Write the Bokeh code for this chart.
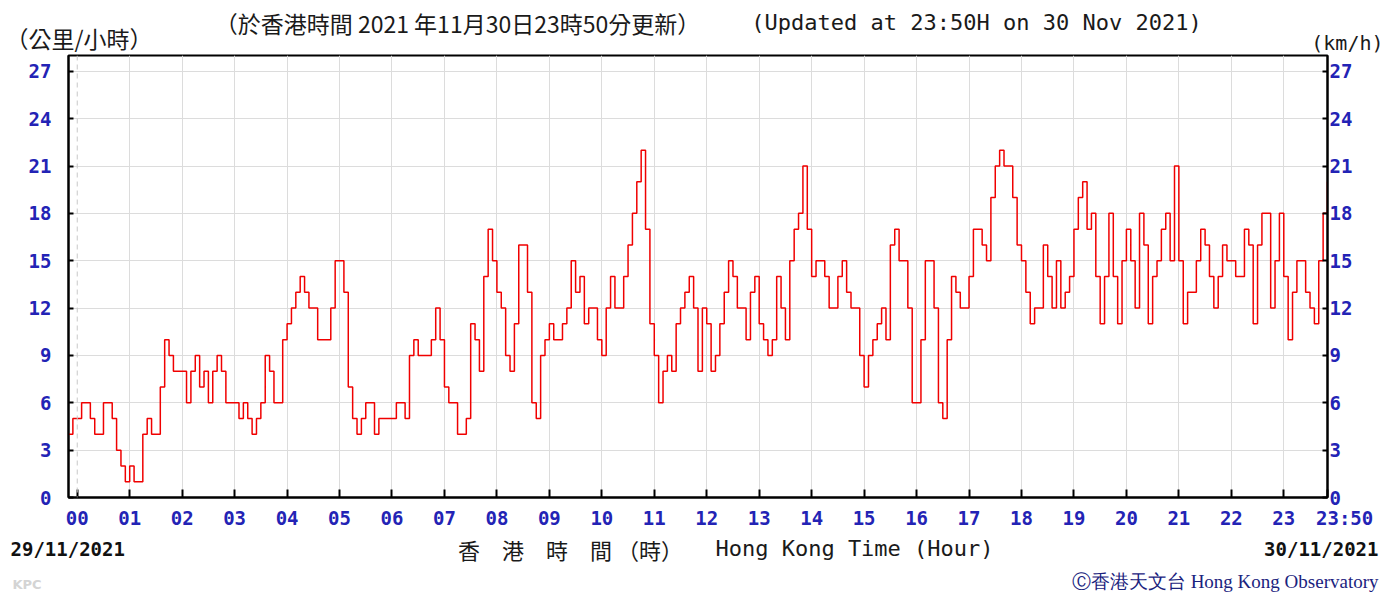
from bokeh.plotting import figure
from bokeh.layouts import column
from bokeh.models import Range1d, FixedTicker, LinearAxis, Label, Span, ColumnDataSource
from bokeh.embed import file_html
from bokeh.resources import INLINE

# ---- data: 10-minute mean wind speed (km/h), sampled every 5 minutes ----
start_minute = -10
step_minutes = 5
pre = [4, 5]
h00 = [5, 6, 6, 5, 4, 4, 6, 6, 5, 3, 2, 1]
h01 = [2, 1, 1, 4, 5, 4, 4, 7, 10, 9, 8, 8]
h02 = [8, 6, 8, 9, 7, 8, 6, 8, 9, 8, 6, 6]
h03 = [6, 5, 6, 5, 4, 5, 6, 9, 8, 6, 6, 10]
h04 = [11, 12, 13, 14, 13, 12, 12, 10, 10, 10, 12, 15]
h05 = [15, 13, 7, 5, 4, 5, 6, 6, 4, 5, 5, 5]
h06 = [5, 6, 6, 5, 9, 10, 9, 9, 9, 10, 12, 10]
h07 = [7, 6, 6, 4, 4, 5, 11, 10, 8, 14, 17, 15]
h08 = [13, 12, 9, 8, 11, 16, 16, 13, 6, 5, 9, 10]
h09 = [11, 10, 10, 11, 12, 15, 13, 14, 11, 12, 12, 10]
h10 = [9, 12, 14, 12, 12, 14, 16, 18, 20, 22, 17, 11]
h11 = [9, 6, 8, 9, 8, 11, 12, 13, 14, 12, 8, 12]
h12 = [11, 8, 9, 11, 13, 15, 14, 12, 12, 10, 13, 14]
h13 = [11, 10, 9, 10, 14, 12, 10, 15, 17, 18, 21, 17]
h14 = [14, 15, 15, 14, 12, 12, 14, 15, 13, 12, 12, 9]
h15 = [7, 9, 10, 11, 12, 10, 16, 17, 15, 15, 12, 6]
h16 = [6, 10, 15, 15, 12, 6, 5, 10, 14, 13, 12, 12]
h17 = [14, 17, 17, 16, 15, 19, 21, 22, 21, 21, 19, 16]
h18 = [15, 13, 11, 12, 12, 16, 14, 12, 15, 12, 13, 14]
h19 = [17, 19, 20, 17, 18, 14, 11, 14, 18, 14, 11, 15]
h20 = [17, 15, 12, 18, 16, 11, 14, 15, 17, 18, 15, 21]
h21 = [15, 11, 13, 13, 15, 17, 16, 14, 12, 14, 16, 15]
h22 = [15, 14, 14, 17, 16, 11, 16, 18, 18, 12, 15, 18]
h23 = [14, 10, 13, 15, 15, 13, 12, 11, 15, 18, 20]

speeds = (pre + h00 + h01 + h02 + h03 + h04 + h05 + h06 + h07 + h08 + h09 + h10 + h11
          + h12 + h13 + h14 + h15 + h16 + h17 + h18 + h19 + h20 + h21 + h22 + h23)
minutes = [start_minute + i * step_minutes for i in range(len(speeds))]

hour_ticks = [h * 60 for h in range(24)] + [1430]
hour_labels = ["%02d" % h for h in range(24)] + ["\u00a0\u00a0\u00a023:50"]
speed_ticks = [0, 3, 6, 9, 12, 15, 18, 21, 24, 27]

title_zh = "（於香港時間 2021 年11月30日23時50分更新）"
title_en = "(Updated at 23:50H on 30 Nov 2021)"
unit_zh = "（公里/小時）"
unit_en = "(km/h)"
date_start = "29/11/2021"
date_end = "30/11/2021"
xlabel_zh = "香\u3000港\u3000時\u3000間 （時）"
xlabel_en = "Hong Kong Time (Hour)"
credit = "Ⓒ香港天文台 Hong Kong Observatory"
tag = "KPC"

W = 1387
HEAD_H = 54
MAIN_H = 478
FOOT_H = 60

LABEL_BLUE = "#2323b5"
MONO = "DejaVu Sans Mono"
CJK = "Noto Sans CJK TC"


def text_panel(height, top):
    f = figure(width=W, height=height, output_backend="svg", toolbar_location=None,
               x_range=Range1d(0, W), y_range=Range1d(top + height, top),
               x_axis_location=None, y_axis_location=None,
               min_border=0, min_border_left=0, min_border_right=0,
               min_border_top=0, min_border_bottom=0,
               background_fill_color="white", border_fill_color="white")
    f.outline_line_color = None
    f.grid.visible = False
    f.frame_align = False
    return f


def lab(f, x, y, text, align="left", font=CJK, size="19px", style="normal", color="#1a1a1a"):
    f.add_layout(Label(x=x, y=y, text=text, text_align=align, text_baseline="middle",
                       text_font=font, text_font_size=size, text_font_style=style,
                       text_color=color))


# ---------------- header ----------------
head = text_panel(HEAD_H, 0)
lab(head, 5, 37, unit_zh, "left", CJK, "23px")
lab(head, 457, 22, title_zh, "center", CJK, "23px")
lab(head, 976, 22, title_en, "center", MONO, "22px")
lab(head, 1383, 42, unit_en, "right", MONO, "20px")

# ---------------- main chart ----------------
src = ColumnDataSource(dict(minute=minutes, speed=speeds))

p = figure(width=W, height=MAIN_H, output_backend="svg", toolbar_location=None,
           x_range=Range1d(-10, 1430), y_range=Range1d(0, 28),
           min_border_left=68, min_border_right=60, min_border_top=1, min_border_bottom=35,
           background_fill_color="white", border_fill_color="white")
p.frame_align = False
p.outline_line_color = "black"
p.outline_line_width = 2

xa = p.xaxis[0]
xa.ticker = FixedTicker(ticks=hour_ticks)
xa.major_label_overrides = {t: l for t, l in zip(hour_ticks, hour_labels)}
xa.major_tick_in = 8
xa.major_tick_out = 0
xa.minor_tick_line_color = None
xa.major_tick_line_width = 2
xa.axis_line_width = 2
xa.major_label_standoff = 9
xa.major_label_text_font = MONO
xa.major_label_text_font_style = "bold"
xa.major_label_text_font_size = "19px"
xa.major_label_text_color = LABEL_BLUE

ya = p.yaxis[0]
ya.ticker = FixedTicker(ticks=speed_ticks)
ya.major_tick_in = 5
ya.major_tick_out = 0
ya.minor_tick_line_color = None
ya.major_tick_line_width = 2
ya.axis_line_width = 2
ya.major_label_standoff = 17
ya.major_label_text_font = MONO
ya.major_label_text_font_style = "bold"
ya.major_label_text_font_size = "19px"
ya.major_label_text_color = LABEL_BLUE

ra = LinearAxis(ticker=FixedTicker(ticks=speed_ticks))
ra.major_tick_in = 5
ra.major_tick_out = 0
ra.minor_tick_line_color = None
ra.major_tick_line_width = 2
ra.axis_line_width = 2
ra.major_label_standoff = 2
ra.major_label_text_font = MONO
ra.major_label_text_font_style = "bold"
ra.major_label_text_font_size = "19px"
ra.major_label_text_color = LABEL_BLUE
p.add_layout(ra, "right")

p.xgrid.ticker = FixedTicker(ticks=hour_ticks[1:-1])
p.ygrid.ticker = FixedTicker(ticks=speed_ticks[1:])
p.xgrid.grid_line_color = "#dcdcdc"
p.ygrid.grid_line_color = "#dcdcdc"
p.add_layout(Span(location=0, dimension="height", line_color="#c8c8c8",
                  line_dash="5 4", line_width=1))

p.step(x="minute", y="speed", source=src, mode="after",
       line_color="#f00000", line_width=1.5)

# ---------------- footer ----------------
foot_top = HEAD_H + MAIN_H
foot = text_panel(FOOT_H, foot_top)
lab(foot, 10, 548, date_start, "left", MONO, "19px", "bold", "#111111")
lab(foot, 1378, 548, date_end, "right", MONO, "19px", "bold", "#111111")
lab(foot, 570, 548, xlabel_zh, "center", CJK, "22px")
lab(foot, 854, 548, xlabel_en, "center", MONO, "22px")
lab(foot, 12, 584, tag, "left", "DejaVu Sans", "13px", "bold", "#d4d4d4")
lab(foot, 1378, 581, credit, "right", "Liberation Serif", "19px", "normal", "#1a237e")

layout = column(head, p, foot, spacing=0)
open("out.html", "w").write(file_html(layout, INLINE))
